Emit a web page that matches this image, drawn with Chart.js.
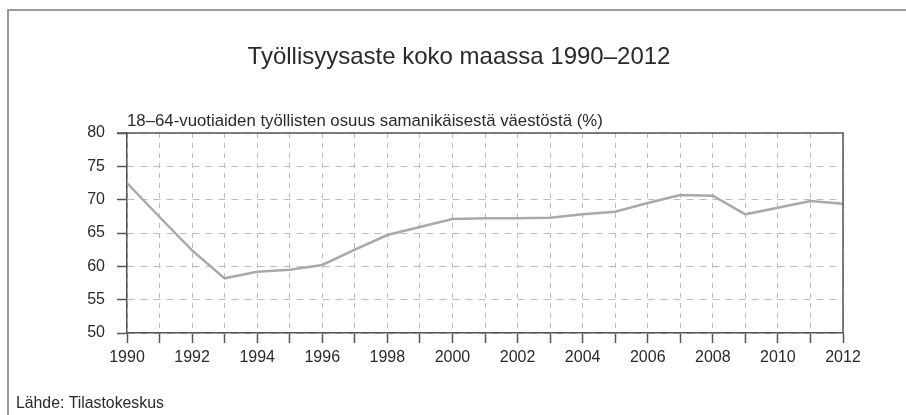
<!DOCTYPE html>
<html>
<head>
<meta charset="utf-8">
<script src="https://cdn.jsdelivr.net/npm/chart.js@4"></script>
<style>
    body { margin: 0; background: #fff; }
    #wrap { width: 906px; height: 415px; }
</style>
</head>
<body>
<div id="wrap"><canvas id="chart" width="906" height="415"></canvas></div>
<script>
const years = [1990, 1991, 1992, 1993, 1994, 1995, 1996, 1997, 1998, 1999, 2000, 2001,
               2002, 2003, 2004, 2005, 2006, 2007, 2008, 2009, 2010, 2011, 2012];
const employmentRate = [72.5, 67.4, 62.4, 58.2, 59.2, 59.5, 60.2, 62.5, 64.7, 65.9, 67.1, 67.2,
                        67.2, 67.3, 67.8, 68.2, 69.5, 70.7, 70.6, 67.8, 68.8, 69.8, 69.4];
const yTicks = [50, 55, 60, 65, 70, 75, 80];

const titleText = 'Työllisyysaste koko maassa 1990–2012';
const subtitleText = '18–64-vuotiaiden työllisten osuus samanikäisestä väestöstä (%)';
const sourceText = 'Lähde: Tilastokeskus';

const FONT = '"Liberation Sans", Arial, sans-serif';
const TEXT = '#2a2a2a';
const AXIS = '#555';

// frame, titles and the closing lines on top/right of the plot
const decorations = {
    id: 'decorations',
    beforeDraw(chart) {
        const ctx = chart.ctx;
        ctx.save();
        ctx.fillStyle = '#fff';
        ctx.fillRect(0, 0, chart.width, chart.height);
        ctx.strokeStyle = '#9a9a9a';
        ctx.lineWidth = 2;
        ctx.beginPath();
        ctx.moveTo(8, chart.height);
        ctx.lineTo(8, 10);
        ctx.lineTo(chart.width, 10);
        ctx.stroke();
        ctx.restore();
    },
    afterDraw(chart) {
        const ctx = chart.ctx;
        const a = chart.chartArea;
        ctx.save();
        ctx.strokeStyle = AXIS;
        ctx.lineWidth = 1.5;
        ctx.beginPath();
        ctx.moveTo(a.left - 10, a.top);
        ctx.lineTo(a.right, a.top);
        ctx.lineTo(a.right, a.bottom);
        ctx.stroke();

        ctx.fillStyle = TEXT;
        ctx.textBaseline = 'alphabetic';
        ctx.textAlign = 'center';
        ctx.font = '24px ' + FONT;
        ctx.fillText(titleText, 459, 64);
        ctx.textAlign = 'left';
        ctx.font = '16.8px ' + FONT;
        ctx.fillText(subtitleText, 127, 126);
        ctx.font = '15.8px ' + FONT;
        ctx.fillText(sourceText, 16, 408);
        ctx.restore();
    }
};

new Chart(document.getElementById('chart'), {
    type: 'line',
    data: {
        labels: years,
        datasets: [{
            label: 'Työllisyysaste',
            data: years.map((y, i) => ({ x: y, y: employmentRate[i] })),
            borderColor: '#a9a9a9',
            borderWidth: 2.5,
            pointRadius: 0,
            tension: 0
        }]
    },
    options: {
        responsive: false,
        animation: false,
        layout: { padding: { left: 0, top: 133, right: 63, bottom: 0 } },
        plugins: {
            legend: { display: false },
            tooltip: { enabled: false }
        },
        scales: {
            x: {
                type: 'linear',
                min: 1990,
                max: 2012,
                afterFit(scale) { scale.height = 82; },
                afterBuildTicks(scale) { scale.ticks = years.map(v => ({ value: v })); },
                ticks: {
                    autoSkip: false,
                    maxRotation: 0,
                    padding: 5,
                    color: TEXT,
                    font: { family: FONT, size: 16 },
                    callback: v => (v % 2 === 0 ? String(v) : '')
                },
                grid: {
                    color: '#bdbdbd',
                    lineWidth: 1,
                    tickLength: 10,
                    tickColor: AXIS,
                    tickWidth: 1.5,
                    tickBorderDash: []
                },
                border: { display: true, color: AXIS, width: 1.5, dash: [5, 5] }
            },
            y: {
                min: 50,
                max: 80,
                afterFit(scale) { scale.width = 127; },
                afterBuildTicks(scale) { scale.ticks = yTicks.map(v => ({ value: v })); },
                ticks: {
                    padding: 12,
                    color: TEXT,
                    font: { family: FONT, size: 16 }
                },
                grid: {
                    color: '#bdbdbd',
                    lineWidth: 1,
                    tickLength: 10,
                    tickColor: AXIS,
                    tickWidth: 1.5,
                    tickBorderDash: []
                },
                border: { display: true, color: AXIS, width: 1.5, dash: [7, 6] }
            }
        }
    },
    plugins: [decorations]
});
</script>
</body>
</html>
